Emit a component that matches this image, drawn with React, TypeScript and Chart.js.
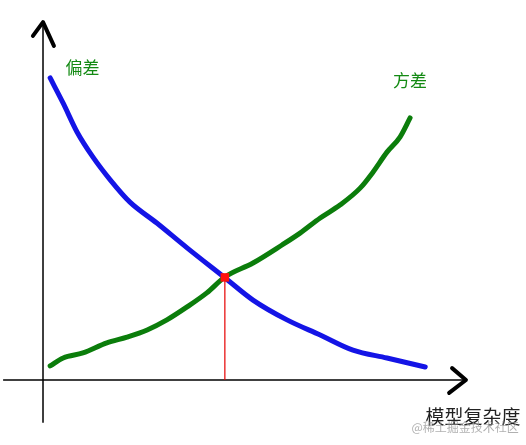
import { useEffect, useRef } from "react";
import { Chart, registerables, Plugin } from "chart.js";

Chart.register(...registerables);

// model complexity (x) vs error (y)
const biasX = [0.17, 0.48, 0.81, 1.19, 1.6, 2.07, 2.71, 3.43, 4.33, 5.0, 5.81, 6.6, 7.38, 8.19, 9.1];
const biasY = [8.39, 7.69, 6.89, 6.19, 5.56, 4.94, 4.36, 3.67, 2.84, 2.22, 1.67, 1.25, 0.83, 0.61, 0.36];

const varianceX = [0.17, 0.48, 0.95, 1.52, 2.0, 2.48, 2.95, 3.43, 3.9, 4.33, 5.0, 5.69, 6.12, 6.6, 7.07, 7.55, 7.86, 8.19, 8.5, 8.74];
const varianceY = [0.39, 0.61, 0.75, 1.03, 1.19, 1.39, 1.67, 2.03, 2.42, 2.86, 3.25, 3.75, 4.08, 4.5, 4.86, 5.33, 5.78, 6.33, 6.75, 7.28];

// point where the two curves cross
const crossX = 4.33;
const crossY = 2.85;

// hand-drawn axes with arrow heads
const yAxisLine = [
  [0, 9.94],
  [0, -1.19],
];
const yArrow = [
  [-0.24, 9.56],
  [0, 9.94],
  [0.26, 9.28],
];
const xAxisLine = [
  [-0.95, 0],
  [10.07, 0],
];
const xArrow = [
  [9.74, 0.33],
  [10.07, 0],
  [9.67, -0.36],
];

const labels = [
  { text: "偏差", x: 0.94, y: 8.69, size: 17, color: "#138a13" },
  { text: "方差", x: 8.74, y: 8.32, size: 17, color: "#138a13" },
  { text: "模型复杂度", x: 10.24, y: -1.03, size: 19, color: "#222222" },
  { text: "@稀土掘金技术社区", x: 10.05, y: -1.33, size: 12, color: "rgba(150,150,150,0.75)" },
];

const toPoints = (xs: number[], ys: number[]) => xs.map((x, i) => ({ x, y: ys[i] }));
const pairs = (p: number[][]) => p.map(([x, y]) => ({ x, y }));

const labelPlugin: Plugin = {
  id: "sketchLabels",
  afterDatasetsDraw(chart) {
    const { ctx, scales } = chart;
    ctx.save();
    ctx.textAlign = "center";
    ctx.textBaseline = "middle";
    labels.forEach((l) => {
      ctx.font = `${l.size}px "Noto Sans CJK SC", sans-serif`;
      ctx.fillStyle = l.color;
      ctx.fillText(l.text, scales.x.getPixelForValue(l.x), scales.y.getPixelForValue(l.y));
    });
    ctx.restore();
  },
};

export default function App() {
  const chartRef = useRef<HTMLCanvasElement>(null);
  const chartInstance = useRef<Chart | null>(null);

  useEffect(() => {
    if (!chartRef.current) return;
    if (chartInstance.current) {
      chartInstance.current.destroy();
    }

    const axisStyle = {
      borderColor: "#000000",
      pointRadius: 0,
      showLine: true,
      tension: 0,
      fill: false,
      order: 3,
    };

    chartInstance.current = new Chart(chartRef.current, {
      type: "scatter",
      data: {
        datasets: [
          { ...axisStyle, data: pairs(yAxisLine), borderWidth: 1.5 },
          { ...axisStyle, data: pairs(xAxisLine), borderWidth: 1.5 },
          { ...axisStyle, data: pairs(yArrow), borderWidth: 4, borderCapStyle: "round", borderJoinStyle: "round" },
          { ...axisStyle, data: pairs(xArrow), borderWidth: 4, borderCapStyle: "round", borderJoinStyle: "round" },
          {
            label: "偏差",
            data: toPoints(biasX, biasY),
            borderColor: "#1414e6",
            borderWidth: 5,
            pointRadius: 0,
            showLine: true,
            cubicInterpolationMode: "monotone",
            borderCapStyle: "round",
            order: 2,
          },
          {
            label: "方差",
            data: toPoints(varianceX, varianceY),
            borderColor: "#0b7d0b",
            borderWidth: 5,
            pointRadius: 0,
            showLine: true,
            cubicInterpolationMode: "monotone",
            borderCapStyle: "round",
            order: 1,
          },
          {
            data: [
              { x: crossX, y: crossY },
              { x: crossX, y: 0 },
            ],
            borderColor: "#e60000",
            borderWidth: 1.2,
            pointRadius: 0,
            showLine: true,
            order: 0,
          },
          {
            data: [{ x: crossX, y: crossY }],
            pointStyle: "rect",
            pointRadius: 6,
            backgroundColor: "#ff1010",
            borderColor: "#ff1010",
            borderWidth: 0,
            order: -1,
          },
        ],
      },
      options: {
        animation: false,
        responsive: true,
        maintainAspectRatio: false,
        events: [],
        layout: { padding: 0, autoPadding: false },
        plugins: {
          legend: { display: false },
          tooltip: { enabled: false },
        },
        scales: {
          x: { type: "linear", min: -1.024, max: 11.5, display: false },
          y: { type: "linear", min: -1.806, max: 10.556, display: false },
        },
      },
      plugins: [labelPlugin],
    });

    return () => {
      if (chartInstance.current) {
        chartInstance.current.destroy();
        chartInstance.current = null;
      }
    };
  }, []);

  return (
    <div style={{ position: "fixed", left: 0, top: 0, width: 526, height: 445, background: "#ffffff" }}>
      <canvas ref={chartRef} />
    </div>
  );
}
